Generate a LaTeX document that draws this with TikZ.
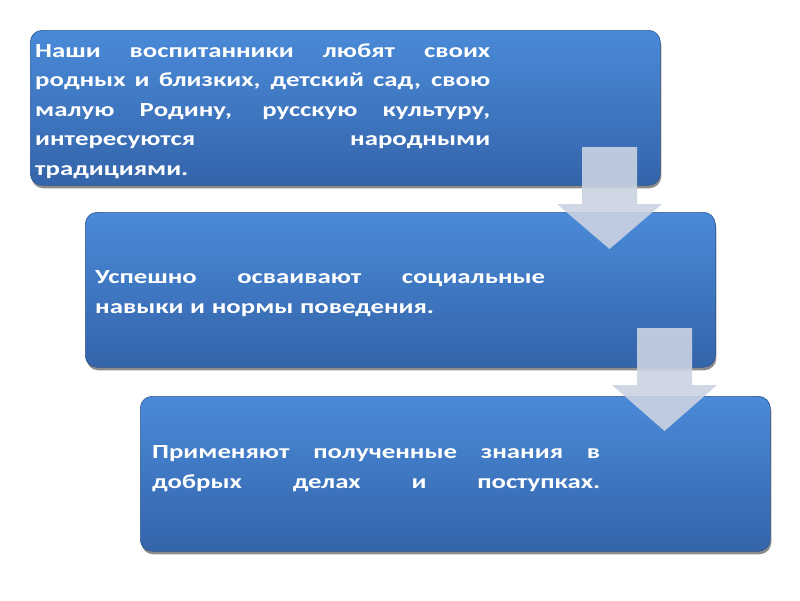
\documentclass[tikz,border=0pt]{standalone}
\usepackage{fontspec}
\setmainfont{Carlito}[FakeStretch=1.34]
\usetikzlibrary{shadows}
\definecolor{boxtop}{RGB}{74,138,216}
\definecolor{boxbot}{RGB}{52,100,170}
\definecolor{arrfill}{RGB}{202,210,226}
\newcommand{\jline}[2][455pt]{\makebox[#1][s]{\spaceskip=0.25em plus 1fil\relax #2}}
\begin{document}
\begin{tikzpicture}[x=1pt,y=-1pt,
  boxstyle/.style={rectangle, rounded corners=12pt, top color=boxtop, bottom color=boxbot,
    draw=boxbot!85!black, line width=0.6pt, anchor=north west, inner sep=0pt,
    minimum width=630pt, minimum height=155pt,
    drop shadow={shadow xshift=1pt, shadow yshift=-3pt, opacity=0.45, fill=black}},
  txt/.style={text=white, font=\bfseries\fontsize{20}{29.5}\selectfont, align=left,
    text width=455pt, anchor=west, inner sep=0pt},
  arrowshape/.style={fill=arrfill, opacity=0.9}]
\useasboundingbox (0,0) rectangle (800,600);
\fill[white] (0,0) rectangle (800,600);

\node[boxstyle] (b1) at (30,30) {};
\node[boxstyle] (b2) at (85,212) {};
\node[boxstyle] (b3) at (140,396) {};

\node[txt] (t1) at ([xshift=5pt,yshift=-3pt]b1.west) {\jline{Наши воспитанники любят своих}\\
\jline{родных и близких, детский сад, свою}\\
\jline{малую Родину, русскую культуру,}\\
\jline{интересуются народными}\\
традициями.};

\node[txt] (t2) at ([xshift=10pt,yshift=-4pt]b2.west) {\jline[450pt]{Успешно осваивают социальные}\\
навыки и нормы поведения.};

\node[txt] (t3) at ([xshift=12pt,yshift=5pt]b3.west) {\jline[448pt]{Применяют полученные знания в}\\
\jline[448pt]{добрых делах и поступках.}};

\fill[arrowshape] (582,147) -- (637,147) -- (637,204) -- (662,204) -- (609.5,249)
  -- (557,204) -- (582,204) -- cycle;
\fill[arrowshape] (637,328) -- (692,328) -- (692,385) -- (717,385) -- (664.5,431)
  -- (612,385) -- (637,385) -- cycle;
\end{tikzpicture}
\end{document}
